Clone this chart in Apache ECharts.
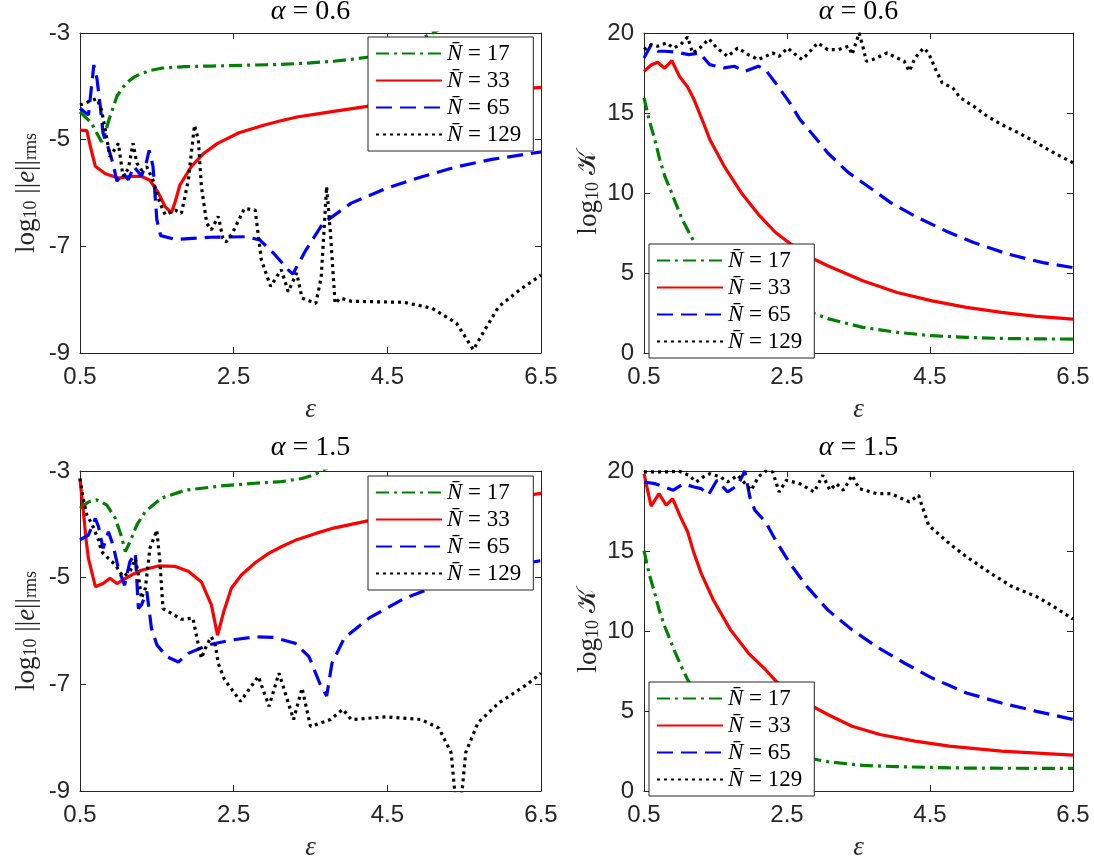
<!DOCTYPE html>
<html>
<head>
<meta charset="utf-8">
<script src="https://cdn.jsdelivr.net/npm/echarts@6/dist/echarts.min.js"></script>
<style>
html,body{margin:0;padding:0;background:#fff;}
#chart{width:1094px;height:867px;}
</style>
</head>
<body>
<div id="chart"></div>
<script>
// ---- tick labels ----
const X_TICKS = [0.5, 2.5, 4.5, 6.5];
const ERR_TICKS = [-9, -7, -5, -3];
const COND_TICKS = [0, 5, 10, 15, 20];
const N_VALUES = [17, 33, 65, 129];
const TITLES = ['0.6', '0.6', '1.5', '1.5'];

// ---- panel 1: log10 ||e||rms, alpha = 0.6 ----
const e06_17 = [[0.5,-4.48],[0.6,-4.62],[0.65,-4.69],[0.72,-4.88],[0.78,-5.04],[0.82,-4.92],[0.87,-4.66],[0.93,-4.4],[0.98,-4.19],[1.05,-4.03],[1.13,-3.91],[1.2,-3.83],[1.3,-3.76],[1.42,-3.7],[1.56,-3.66],[1.74,-3.64],[1.87,-3.63],[2.2,-3.62],[2.78,-3.6],[3.12,-3.59],[3.5,-3.56],[3.8,-3.53],[4.05,-3.49],[4.26,-3.45],[4.5,-3.36],[4.75,-3.24],[4.95,-3.1],[5.13,-2.97],[5.3,-2.85]];
const e06_33 = [[0.5,-4.82],[0.59,-4.83],[0.63,-5.1],[0.7,-5.5],[0.83,-5.64],[1.0,-5.72],[1.15,-5.69],[1.3,-5.69],[1.41,-5.76],[1.52,-6.0],[1.61,-6.26],[1.69,-6.37],[1.74,-6.16],[1.8,-5.85],[1.95,-5.5],[2.1,-5.27],[2.29,-5.07],[2.57,-4.87],[2.89,-4.73],[3.1,-4.65],[3.34,-4.57],[3.57,-4.52],[3.8,-4.47],[4.26,-4.37],[4.8,-4.27],[5.4,-4.18],[6.0,-4.08],[6.5,-4.02]];
const e06_65 = [[0.5,-4.41],[0.61,-4.54],[0.65,-4.0],[0.68,-3.6],[0.72,-3.85],[0.76,-4.32],[0.8,-4.88],[0.87,-5.16],[0.93,-5.45],[0.98,-5.78],[1.06,-5.62],[1.13,-5.75],[1.2,-5.5],[1.3,-5.68],[1.36,-5.45],[1.4,-5.2],[1.45,-5.5],[1.5,-6.5],[1.55,-6.8],[1.74,-6.87],[2.2,-6.83],[2.66,-6.82],[2.84,-6.88],[3.02,-7.13],[3.21,-7.44],[3.27,-7.52],[3.44,-7.07],[3.66,-6.57],[4.03,-6.19],[4.49,-5.91],[4.94,-5.7],[5.4,-5.51],[5.86,-5.37],[6.5,-5.23]];
const e06_129 = [[0.5,-4.35],[0.61,-4.29],[0.72,-4.23],[0.78,-4.44],[0.83,-4.82],[0.89,-5.32],[1.0,-5.07],[1.06,-5.69],[1.13,-5.54],[1.19,-5.07],[1.24,-5.44],[1.3,-5.57],[1.37,-5.51],[1.45,-5.76],[1.54,-6.19],[1.61,-6.41],[1.74,-6.32],[1.82,-6.38],[1.91,-5.76],[1.99,-4.73],[2.04,-5.0],[2.08,-5.88],[2.15,-6.57],[2.21,-6.69],[2.3,-6.44],[2.36,-6.85],[2.4,-6.92],[2.48,-6.76],[2.64,-6.29],[2.78,-6.32],[2.86,-7.25],[2.98,-7.75],[3.12,-7.44],[3.21,-7.85],[3.32,-7.5],[3.39,-7.97],[3.57,-8.07],[3.64,-7.57],[3.71,-5.88],[3.76,-6.76],[3.82,-8.07],[3.89,-7.97],[4.03,-8.03],[4.72,-8.05],[5.08,-8.16],[5.4,-8.44],[5.62,-8.94],[5.77,-8.56],[5.95,-8.13],[6.22,-7.82],[6.5,-7.54]];

// ---- panel 2: log10 K, alpha = 0.6 ----
const c06_17 = [[0.5,15.95],[0.57,14.6],[0.65,13.35],[0.72,12.1],[0.79,11.06],[0.87,10.2],[0.94,9.4],[1.03,8.4],[1.13,7.53],[1.28,6.28],[1.5,5.2],[1.8,4.2],[2.1,3.55],[2.4,3.05],[2.78,2.64],[3.07,2.15],[3.56,1.6],[4.04,1.29],[4.53,1.08],[5.01,0.98],[5.5,0.91],[6.0,0.88],[6.5,0.87]];
const c06_33 = [[0.5,17.6],[0.6,18.0],[0.69,18.17],[0.79,17.8],[0.89,18.27],[1.0,17.26],[1.11,16.63],[1.2,15.84],[1.33,14.39],[1.42,13.35],[1.62,11.68],[1.86,10.02],[2.1,8.67],[2.34,7.53],[2.59,6.69],[2.83,5.97],[3.07,5.45],[3.56,4.51],[4.04,3.78],[4.53,3.26],[5.01,2.85],[5.5,2.54],[5.99,2.29],[6.5,2.12]];
const c06_65 = [[0.5,18.44],[0.6,19.27],[0.69,18.86],[0.79,18.86],[0.95,18.8],[1.13,18.65],[1.28,18.75],[1.42,18.02],[1.62,17.82],[1.76,17.92],[1.91,17.6],[2.1,17.92],[2.2,17.7],[2.34,16.88],[2.54,15.63],[2.68,14.6],[2.88,13.55],[3.07,12.5],[3.36,11.27],[3.66,10.33],[3.95,9.4],[4.33,8.46],[4.72,7.63],[5.11,6.9],[5.6,6.17],[6.08,5.65],[6.5,5.34]];
const c06_129 = [[0.5,18.96],[0.6,19.27],[0.69,19.17],[0.82,19.38],[0.91,19.06],[1.01,19.27],[1.11,19.75],[1.18,18.75],[1.28,19.06],[1.41,19.63],[1.52,19.06],[1.67,18.54],[1.81,19.06],[1.96,18.65],[2.1,18.34],[2.3,18.75],[2.39,18.54],[2.51,19.06],[2.59,18.75],[2.71,18.34],[2.78,18.65],[2.93,19.38],[3.07,18.96],[3.22,18.96],[3.36,19.17],[3.41,18.65],[3.51,20.0],[3.56,19.17],[3.61,18.23],[3.7,18.34],[3.9,18.75],[4.04,18.44],[4.14,18.23],[4.21,17.61],[4.29,18.44],[4.41,19.06],[4.48,18.75],[4.58,17.71],[4.67,16.88],[4.82,16.57],[4.92,15.95],[5.11,15.43],[5.3,14.8],[5.5,14.28],[5.74,13.76],[5.99,13.14],[6.23,12.52],[6.5,11.89]];

// ---- panel 3: log10 ||e||rms, alpha = 1.5 ----
const e15_17 = [[0.5,-3.7],[0.61,-3.58],[0.72,-3.54],[0.85,-3.64],[0.96,-3.89],[1.04,-4.23],[1.09,-4.51],[1.15,-4.33],[1.24,-4.01],[1.35,-3.76],[1.56,-3.51],[1.87,-3.36],[2.34,-3.28],[2.78,-3.23],[3.12,-3.2],[3.39,-3.14],[3.55,-3.07],[3.64,-3.0],[3.8,-2.88]];
const e15_33 = [[0.5,-3.14],[0.54,-3.7],[0.58,-4.3],[0.61,-4.64],[0.7,-5.17],[0.8,-5.11],[0.89,-5.01],[0.98,-5.11],[1.06,-5.04],[1.17,-4.95],[1.3,-4.86],[1.52,-4.78],[1.74,-4.79],[1.91,-4.88],[2.08,-5.08],[2.21,-5.51],[2.29,-6.08],[2.37,-5.64],[2.47,-5.2],[2.6,-4.95],[2.78,-4.72],[2.95,-4.55],[3.12,-4.42],[3.3,-4.3],[3.57,-4.17],[3.8,-4.07],[4.03,-4.0],[4.26,-3.93],[5.0,-3.75],[5.5,-3.63],[6.0,-3.52],[6.5,-3.42]];
const e15_65 = [[0.5,-4.29],[0.61,-4.2],[0.7,-3.89],[0.74,-4.04],[0.8,-4.45],[0.87,-4.14],[0.93,-4.39],[1.0,-4.83],[1.08,-5.14],[1.15,-4.7],[1.22,-4.54],[1.26,-5.58],[1.3,-5.51],[1.37,-5.26],[1.43,-5.95],[1.5,-6.26],[1.63,-6.48],[1.78,-6.58],[1.91,-6.42],[2.17,-6.26],[2.47,-6.17],[2.78,-6.11],[3.02,-6.12],[3.3,-6.23],[3.48,-6.48],[3.62,-6.98],[3.71,-7.22],[3.78,-6.6],[3.94,-6.13],[4.26,-5.76],[4.72,-5.39],[5.17,-5.14],[5.6,-4.95],[6.0,-4.8],[6.5,-4.68]];
const e15_129 = [[0.5,-3.14],[0.54,-3.51],[0.59,-3.83],[0.65,-3.98],[0.74,-4.29],[0.78,-4.51],[0.87,-4.64],[0.96,-4.76],[1.06,-4.98],[1.15,-4.89],[1.22,-4.64],[1.26,-4.95],[1.3,-5.39],[1.35,-5.2],[1.41,-4.45],[1.5,-4.11],[1.54,-4.7],[1.58,-5.58],[1.69,-5.67],[1.82,-5.78],[1.97,-5.76],[2.04,-6.26],[2.08,-6.51],[2.15,-6.26],[2.21,-6.11],[2.26,-6.26],[2.3,-6.61],[2.38,-6.91],[2.59,-7.32],[2.82,-6.85],[2.96,-7.41],[3.09,-6.79],[3.28,-7.66],[3.39,-7.07],[3.5,-7.79],[3.76,-7.66],[3.92,-7.47],[4.03,-7.66],[4.49,-7.61],[4.94,-7.66],[5.17,-7.82],[5.33,-8.28],[5.39,-9.2],[5.46,-9.2],[5.52,-8.28],[5.68,-7.72],[5.95,-7.35],[6.32,-7.0],[6.5,-6.79]];

// ---- panel 4: log10 K, alpha = 1.5 ----
const c15_17 = [[0.5,15.02],[0.57,13.6],[0.65,12.36],[0.72,11.2],[0.79,10.28],[0.87,9.4],[0.94,8.62],[1.02,7.8],[1.11,6.96],[1.3,5.6],[1.6,4.3],[1.9,3.4],[2.2,2.8],[2.5,2.35],[2.78,2.08],[3.07,1.83],[3.56,1.6],[4.04,1.52],[5.01,1.43],[6.5,1.41]];
const c15_33 = [[0.5,19.83],[0.6,17.8],[0.71,18.59],[0.81,17.86],[0.9,18.28],[1.01,17.13],[1.11,16.2],[1.2,14.85],[1.3,13.6],[1.47,11.94],[1.71,10.07],[1.96,8.62],[2.2,7.58],[2.34,6.9],[2.55,6.1],[2.77,5.5],[3.07,4.78],[3.41,4.05],[3.8,3.53],[4.29,3.12],[4.77,2.8],[5.5,2.49],[6.5,2.24]];
const c15_65 = [[0.5,19.31],[0.65,19.21],[0.79,19.0],[0.91,18.8],[1.05,19.2],[1.2,19.0],[1.3,18.9],[1.4,18.5],[1.52,19.42],[1.67,18.69],[1.81,19.1],[1.91,20.0],[1.98,18.38],[2.05,17.55],[2.2,16.82],[2.34,15.68],[2.54,14.23],[2.78,12.77],[3.07,11.32],[3.41,10.07],[3.75,9.03],[4.14,8.0],[4.53,7.06],[5.01,6.13],[5.5,5.5],[5.99,4.98],[6.5,4.47]];
const c15_129 = [[0.5,19.94],[0.65,19.94],[0.84,19.94],[0.99,20.0],[1.13,19.73],[1.23,19.31],[1.33,19.63],[1.42,19.83],[1.57,19.63],[1.67,19.31],[1.81,19.73],[2.0,18.8],[2.1,19.63],[2.2,20.0],[2.3,19.94],[2.39,18.69],[2.49,19.42],[2.68,19.21],[2.88,18.69],[3.0,19.73],[3.1,18.8],[3.19,19.21],[3.29,18.8],[3.41,19.73],[3.51,18.9],[3.75,18.59],[3.95,18.59],[4.21,18.07],[4.34,18.48],[4.48,16.61],[4.77,15.47],[5.01,14.64],[5.35,13.6],[5.65,12.77],[5.99,12.15],[6.23,11.53],[6.5,10.74]];

const PANEL_DATA = [
  [e06_17, e06_33, e06_65, e06_129],
  [c06_17, c06_33, c06_65, c06_129],
  [e15_17, e15_33, e15_65, e15_129],
  [c15_17, c15_33, c15_65, c15_129]
];

// ---- styles / layout ----
const SERIF = "'Liberation Serif','DejaVu Serif',serif";
const SANS = "'Liberation Sans',Arial,sans-serif";
const AX = '#262626';
const LINE_STYLES = [
  {color:'#008000', type:[13,5,3,5]},
  {color:'#ff0000', type:'solid'},
  {color:'#0000ff', type:[16,8]},
  {color:'#000000', type:[3,4]}
];
const GRIDS = [
  {left:80, top:33, width:461, height:320},
  {left:644, top:33, width:429, height:320},
  {left:80, top:471, width:461, height:320},
  {left:644, top:471, width:429, height:320}
];
const LEGEND_POS = [
  {left:368, top:37}, {left:649, top:244}, {left:368, top:476}, {left:649, top:682}
];
const names = N_VALUES.map(n => 'N\u0304 = ' + n);

const xAxes = [], yAxes = [], series = [], legends = [], titles = [];
GRIDS.forEach((g, i) => {
  const isErr = (i % 2 === 0);
  const yTicks = isErr ? ERR_TICKS : COND_TICKS;
  const ymin = isErr ? -9 : 0, ymax = isErr ? -3 : 20;
  const tick = {show:true, inside:true, length:6, lineStyle:{color:AX, width:1}};
  const line = {show:true, onZero:false, lineStyle:{color:AX, width:1}};
  xAxes.push({
    type:'value', gridIndex:i, position:'bottom', min:0.5, max:6.5,
    axisLine:line, splitLine:{show:false},
    axisTick:Object.assign({customValues:X_TICKS}, tick),
    axisLabel:{customValues:X_TICKS, fontSize:24, color:AX, fontFamily:SANS, margin:12,
      formatter: v => v.toFixed(1)},
    name:'ε', nameLocation:'middle', nameGap:43,
    nameTextStyle:{fontSize:27, fontStyle:'italic', fontFamily:SERIF, color:AX}
  });
  xAxes.push({
    type:'value', gridIndex:i, position:'top', min:0.5, max:6.5,
    axisLine:line, splitLine:{show:false},
    axisTick:Object.assign({customValues:X_TICKS}, tick),
    axisLabel:{show:false}
  });
  const yname = isErr
    ? '{t|log}{s|10}{t| ||}{i|e}{t|||}{s|rms}'
    : '{t|log}{s|10}{t| }{k|𝒦}';
  yAxes.push({
    type:'value', gridIndex:i, position:'left', min:ymin, max:ymax,
    axisLine:line, splitLine:{show:false},
    axisTick:Object.assign({customValues:yTicks}, tick),
    axisLabel:{customValues:yTicks, fontSize:24, color:AX, fontFamily:SANS, margin:10},
    name:yname, nameLocation:'middle', nameRotate:90, nameGap: isErr ? 40 : 42,
    nameTextStyle:{color:AX, rich:{
      t:{fontSize:27, fontFamily:SERIF, color:AX},
      i:{fontSize:27, fontFamily:SERIF, fontStyle:'italic', color:AX},
      k:{fontSize:26, fontFamily:"'DejaVu Serif','DejaVu Sans',serif", color:AX},
      s:{fontSize:18, fontFamily:SERIF, color:AX, verticalAlign:'bottom', lineHeight:17}
    }}
  });
  yAxes.push({
    type:'value', gridIndex:i, position:'right', min:ymin, max:ymax,
    axisLine:line, splitLine:{show:false},
    axisTick:Object.assign({customValues:yTicks}, tick),
    axisLabel:{show:false}
  });
  PANEL_DATA[i].forEach((d, k) => {
    series.push({
      type:'line', name:names[k], data:d,
      xAxisIndex:2*i, yAxisIndex:2*i,
      symbol:'none', showSymbol:false, clip:true, animation:false,
      lineStyle:{color:LINE_STYLES[k].color, width:3.2, type:LINE_STYLES[k].type},
      itemStyle:{color:LINE_STYLES[k].color}
    });
  });
  legends.push({
    left:LEGEND_POS[i].left, top:LEGEND_POS[i].top, orient:'vertical',
    data:names, selectedMode:false,
    itemWidth:66, itemHeight:14, itemGap:4, padding:[5,12,5,7],
    itemStyle:{opacity:0},
    borderColor:AX, borderWidth:1, borderRadius:0, backgroundColor:'#fff',
    formatter: n => '{i|N\u0304}{r|' + n.slice(2) + '}',
    textStyle:{fontSize:23, lineHeight:21, color:'#000', fontFamily:SERIF,
      rich:{
        i:{fontSize:23, lineHeight:21, fontStyle:'italic', fontFamily:SERIF, color:'#000'},
        r:{fontSize:23, lineHeight:21, fontFamily:SERIF, color:'#000'}
      }}
  });
  titles.push({
    text:'{i|α} = ' + TITLES[i],
    left: g.left + g.width / 2, top: i < 2 ? -2 : 434, textAlign:'center', padding:0,
    textStyle:{fontSize:28, fontWeight:'normal', fontFamily:SERIF, color:'#000',
      rich:{i:{fontSize:28, fontStyle:'italic', fontFamily:SERIF, color:'#000'}}}
  });
});

const chart = echarts.init(document.getElementById('chart'));
chart.setOption({
  backgroundColor:'#fff',
  animation:false,
  title:titles,
  grid:GRIDS.map(g => Object.assign({show:false, containLabel:false}, g)),
  xAxis:xAxes, yAxis:yAxes, legend:legends, series:series
});
</script>
</body>
</html>
